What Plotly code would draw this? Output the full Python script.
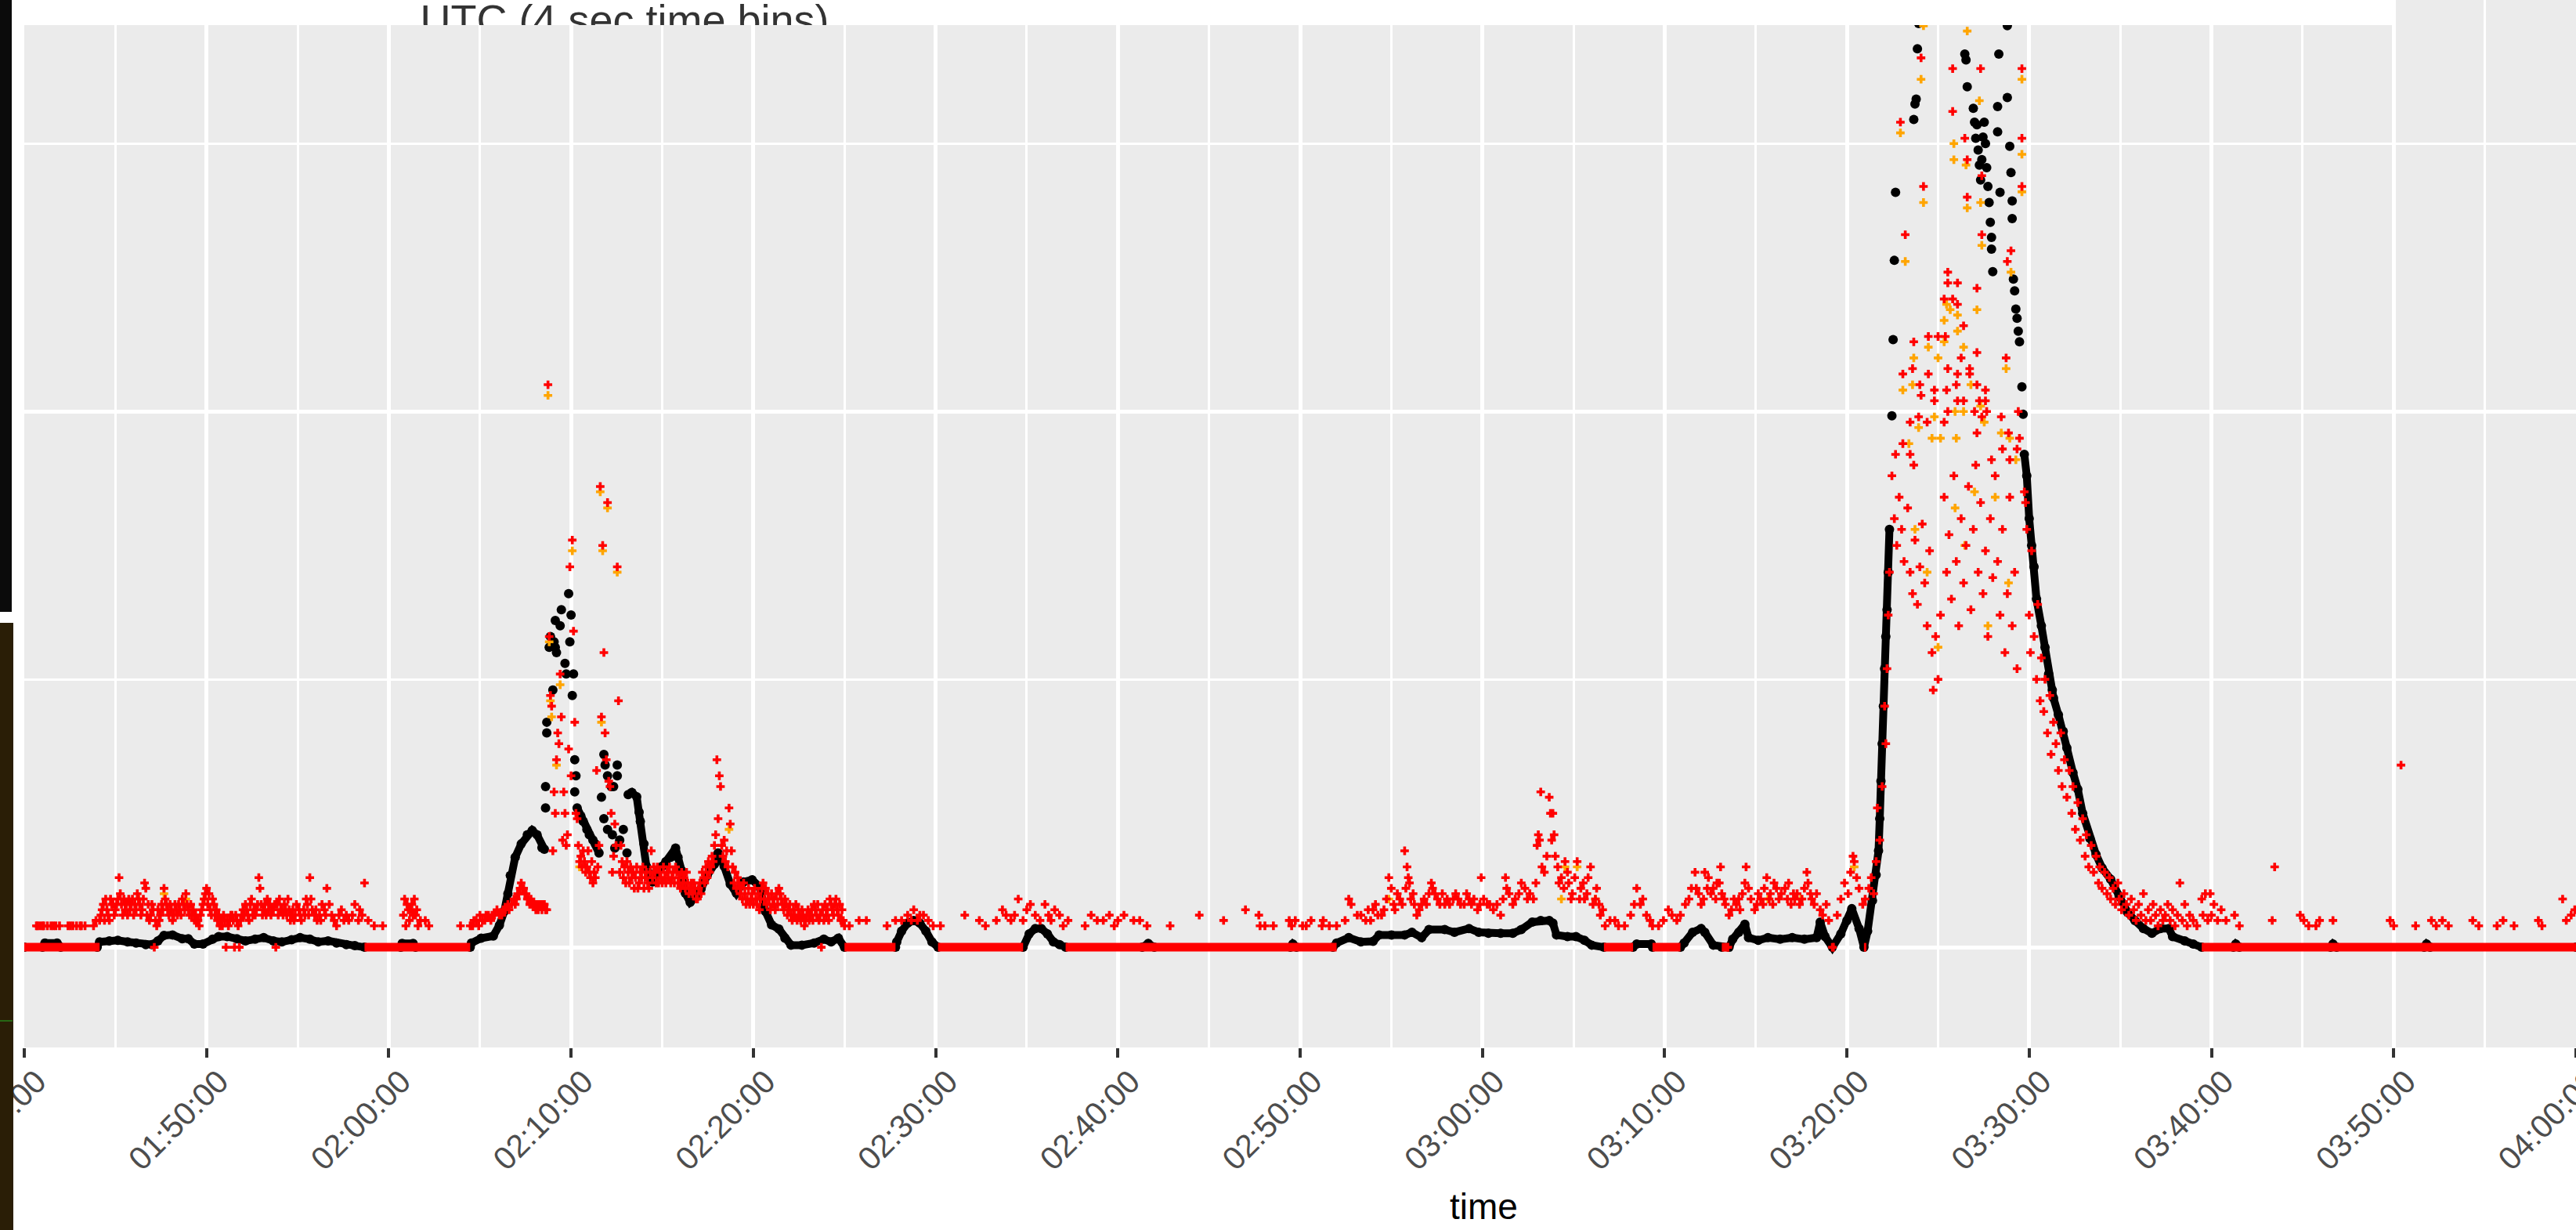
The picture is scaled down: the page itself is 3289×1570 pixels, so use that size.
import pandas as pd
import plotly.graph_objects as go

# Counts per 4-second bin; bin 0 starts at 01:40:00 UTC.
DAY = "2000-01-01"
BIN_SECONDS = 4
T0 = pd.Timestamp(f"{DAY} 01:40:00")

tick_labels = ["01:40:00", "01:50:00", "02:00:00", "02:10:00", "02:20:00",
               "02:30:00", "02:40:00", "02:50:00", "03:00:00", "03:10:00",
               "03:20:00", "03:30:00", "03:40:00", "03:50:00", "04:00:00"]

# ---- black: running level (None = break in the drawn line) ----
black_bin = [
    0, 15, 17, 27, 30, 60, 62, 70, 77, 85,
    92, 100, 105, 110, 115, 122, 130, 135, 140, 147,
    155, 160, 167, 175, 182, 190, 197, 205, 212, 220,
    227, 235, 242, 250, 257, 265, 272, 280, 310, 311,
    320, 322, 367, 368, 376, 386, 391, 395, 398, 400,
    404, 409, 414, 418, 422, 426, 428,
    None,
    455, 458, 460, 463, 465, 468, 470, 473,
    None,
    497, 500, 504, 506, 507, 510, 512, 515, 517, 520,
    525, 528, 532, 536, 538, 541, 542, 544, 548, 552,
    557, 562, 568, 571, 576, 581, 586, 592, 599, 605,
    610, 615, 621, 626, 631, 640, 650, 658, 664, 670,
    675, 717, 718, 722, 727, 732, 737, 742, 747, 752,
    822, 827, 832, 837, 842, 847, 852, 857, 920, 925,
    930, 1042, 1044, 1047, 1077, 1080, 1090, 1100, 1110, 1115,
    1125, 1136, 1142, 1150, 1156, 1169, 1177, 1189, 1197, 1205,
    1215, 1225, 1232, 1241, 1248, 1255, 1258, 1261, 1270, 1277,
    1284, 1290, 1300, 1324, 1327, 1339, 1340, 1363, 1366, 1373,
    1380, 1383, 1390, 1397, 1403, 1406, 1411, 1416, 1419, 1427,
    1435, 1445, 1455, 1465, 1475, 1478, 1482, 1488, 1495, 1500,
    1504, 1510, 1514, 1517, 1521, 1524, 1526, 1527, 1528, 1529,
    1530, 1531, 1532, 1533, 1534, 1535,
    None,
    1646, 1648, 1650, 1652, 1654, 1656, 1660, 1663, 1666, 1669,
    1670, 1674, 1678, 1681, 1686, 1690, 1694, 1700, 1705, 1710,
    1717, 1724, 1731, 1737, 1744, 1751, 1758, 1765, 1768, 1778,
    1785, 1792, 1818, 1820, 1823, 1898, 1900, 1903, 1975, 1977,
    1980, 2100,
]
black_val = [
    0, 0, 0.8, 0.8, 0, 0, 1, 1.2, 1.3, 1.0,
    0.8, 0.5, 0.5, 1.2, 2.2, 2.3, 1.6, 1.6, 0.6, 0.6,
    1.5, 2.0, 2.0, 1.6, 1.2, 1.5, 1.8, 1.2, 1.0, 1.4,
    1.8, 1.5, 1.0, 1.2, 0.8, 0.5, 0.3, 0, 0, 0.7,
    0.7, 0, 0, 0.8, 1.7, 2.1, 4.1, 6.7, 10, 13.4,
    16.8, 19.3, 21, 21.8, 21, 18.6, 18.3,
    None,
    26, 24.5, 23.5, 22, 21, 20, 19.3, 17.6,
    None,
    28.5, 28.9, 28.1, 25.2, 23.5, 19.3, 15.1, 13.4, 12.2, 13.5,
    15.1, 16, 16.8, 18.5, 16.8, 14.3, 12, 10.1, 8.4, 9.2,
    10.9, 13.4, 15.5, 17.6, 15.1, 11.8, 10.1, 12.2, 12.6, 11.3,
    6.7, 4.2, 3.4, 1.7, 0.4, 0.4, 0.8, 1.5, 1.0, 1.7,
    0, 0, 1, 3, 4.5, 5, 4.5, 3, 1, 0,
    0, 2.5, 3.5, 3.5, 2.5, 1, 0.5, 0, 0, 0.7,
    0, 0, 0.6, 0, 0, 0.8, 1.8, 1.0, 1.1, 2.3,
    2.3, 2.3, 2.8, 1.8, 3.3, 3.3, 2.8, 3.5, 2.8, 2.6,
    2.6, 2.6, 3.3, 4.7, 5.0, 5.0, 4.5, 2.3, 2.0, 2.0,
    1.3, 0.4, 0, 0, 0.6, 0.6, 0, 0, 0.8, 2.8,
    3.5, 2.8, 0.4, 0, 0, 1.5, 2.8, 4.3, 1.8, 1.3,
    1.8, 1.5, 1.8, 1.5, 1.8, 4.7, 2.0, 0, 2.5, 5,
    7.2, 3.5, 0, 3, 8.7, 13.5, 18, 24, 31, 38,
    45, 52, 58, 63, 70, 78,
    None,
    92, 88, 80, 75, 71, 65, 60, 56, 51, 48,
    46.5, 43.4, 40.3, 37.2, 32.6, 29.5, 25, 20.3, 17.3, 14.8,
    12.7, 9.6, 6.5, 5, 3.5, 2.6, 3.5, 3.5, 2, 1.2,
    0.6, 0, 0, 0.6, 0, 0, 0.6, 0, 0, 0.6,
    0, 0,
]

# ---- black: isolated bins during the bursts ----
black_burst_bin = [
    429, 429, 430, 430, 432, 433, 435, 436, 437, 437,
    438, 441, 442, 445, 446, 448, 449, 450, 451, 452,
    453, 453, 454, 475, 477, 477, 478, 480, 480, 483,
    484, 485, 486, 488, 488, 490, 493, 496, 1537, 1538,
    1539, 1540, 1555, 1556, 1557, 1558, 1559, 1597, 1598, 1599,
    1604, 1605, 1606, 1607, 1608, 1609, 1610, 1611, 1612, 1613,
    1614, 1615, 1616, 1617, 1618, 1619, 1619, 1620, 1624, 1624,
    1625, 1626, 1632, 1632, 1634, 1635, 1636, 1636, 1637, 1638,
    1639, 1640, 1641, 1642, 1644, 1645,
]
black_burst_val = [
    26, 30, 40, 42, 56, 58, 48, 57, 61, 56,
    55, 60, 63, 53, 51, 66, 57, 62, 47, 51,
    35, 29, 32, 28, 24, 36, 34, 32, 22, 30,
    21, 30, 18.5, 34, 32, 20, 22, 17.6, 99.2, 113.4,
    128.2, 140.9, 154.5, 157.4, 158.3, 167.7, 172.4, 166.7, 165.6, 160.6,
    156.6, 154, 151, 153.5, 148.8, 146, 143.2, 147, 151.2, 154,
    150, 145.5, 142, 139, 135.3, 132.5, 130.3, 126.1, 156.9, 152.2,
    166.7, 140.9, 158.6, 172, 149.5, 144.6, 139.3, 136, 124.7, 122.5,
    119.1, 117.4, 115, 113, 104.6, 99.5,
]

# ---- red: per-bin counts (non-zero stretches) ----
red_bin = [
    10, 11, 13, 15, 16, 19, 22, 24, 26, 29,
    36, 38, 40, 43, 46, 47, 50, 57, 59, 62,
    *range(63, 218),
    218, 219, 220, 221, 222, 223, 224, 226, 227, 228,
    230, 231, 232, 233, 234, 235, 236, 237, 239, 240,
    241, 243, 244, 245, 247, 248, 249, 251, 253, 255,
    257, 259, 261, 263, 265, 267, 270, 272, 275, 276,
    278, 280, 283, 288, 295,
    312, 313, 314, 315, 316, 317, 318, 319, 320, 321,
    322, 323, 324, 326, 330, 333, 359,
    367, 369, 370, 372, 374, 375, 377, 379, 380, 382,
    384, 385, 387, 389, 391, 393, 394, 396, 398, 399,
    401, 403, 404, 405, 406, 407, 408, 409, 410, 411,
    412, 413, 414, 415, 416, 417, 418, 419, 420, 421,
    422, 423, 424, 425, 426, 427, 428, 429, 430,
    *range(431, 492),
    *range(492, 676),
    679, 687, 693, 710, 717, 722, 727, 730, 732, 735,
    737, 740, 744, 748, 754, 774, 786, 791, 800, 805,
    808, 812, 815, 818, 822, 825, 828, 832, 836, 840,
    843, 845, 848, 852, 855, 859, 873, 878, 883, 888,
    893, 897, 900, 905, 913, 918, 924, 943, 967, 987,
    1005, 1016, 1017, 1021, 1028, 1041, 1043, 1046, 1052, 1055,
    1059, 1068, 1069, 1074, 1080,
    1087, 1090, 1092, 1097, 1100, 1104, 1106, 1108, 1110, 1112,
    1114, 1117, 1119, 1121, 1123, 1125, 1127, 1128, 1130, 1132,
    1134, 1136, 1137, 1138, 1139, 1140, 1141, 1143, 1144, 1146,
    1148, 1150, 1152, 1154, 1156, 1158, 1159, 1161, 1163, 1165,
    1167, 1169, 1171, 1173, 1176, 1178, 1180, 1182, 1185, 1187,
    1189, 1191, 1193, 1196, 1198, 1199, 1201, 1204, 1206, 1209,
    1212, 1215, 1217, 1219, 1220, 1222, 1225, 1227, 1230, 1232,
    1235, 1237, 1239, 1242, 1244, 1245, 1246, 1247, 1248, 1249,
    1251, 1253, 1255, 1256, 1257, 1258, 1259, 1260, 1262, 1263,
    1265, 1267, 1268, 1270, 1271, 1273, 1274, 1276, 1278, 1280,
    1281, 1283, 1284, 1286, 1287, 1289, 1291, 1293, 1294, 1296,
    1297, 1299, 1301, 1305, 1309, 1312, 1317, 1322, 1325, 1327,
    1330, 1332, 1335, 1338, 1340, 1345, 1349, 1353, 1356, 1360,
    1363, 1367, 1370, 1372, 1375, 1376, 1378, 1380, 1382, 1383,
    1385, 1386, 1388, 1390, 1392, 1393, 1395, 1396, 1397, 1399,
    1400, 1402, 1403, 1405, 1407, 1409, 1411, 1412, 1414, 1416,
    1417, 1419, 1421, 1424, 1426, 1427, 1429, 1431, 1432, 1434,
    1436, 1437, 1439, 1440, 1442, 1444, 1446, 1449, 1451, 1452,
    1454, 1456, 1457, 1459, 1461, 1463, 1465, 1467, 1468, 1470,
    1471, 1473, 1475, 1478, 1480, 1483, 1485, 1488, 1492, 1495,
    1498, 1501, 1503, 1505, 1506, 1508, 1510, 1513, 1515, 1518,
    1520, 1522, 1524, 1525,
    1527, 1529, 1531, 1532, 1533, 1534, 1535, 1537, 1539, 1541,
    1543, 1545, 1547, 1550, 1552, 1554, 1556, 1558, 1560, 1562,
    1564, 1566, 1568, 1570, 1571, 1573, 1575, 1577, 1580, 1582,
    1584, 1586, 1588, 1590, 1592, 1594, 1596, 1598, 1600, 1602,
    1604, 1606, 1608, 1610, 1612, 1614, 1616, 1618, 1620, 1622,
    1624, 1626, 1628, 1630, 1632, 1634, 1636, 1638, 1640,
    1540, 1544, 1546, 1546, 1548, 1552, 1552, 1554, 1555, 1555,
    1559, 1560, 1561, 1561, 1563, 1566, 1567, 1567, 1572, 1572,
    1575, 1580, 1580, 1581, 1582, 1583, 1583, 1583, 1583, 1587,
    1587, 1587, 1590, 1591, 1591, 1591, 1591, 1594, 1596, 1596,
    1597, 1599, 1599, 1601, 1601, 1605, 1607, 1607, 1607, 1607,
    1609, 1610, 1611, 1611, 1611, 1614, 1614, 1615, 1619, 1627,
    1628, 1631, 1632, 1633, 1634, 1635, 1640, 1641, 1642, 1644,
    1644, 1644,
    1646, 1647, 1648, 1650, 1651, 1652, 1654, 1656, 1657, 1659,
    1660, 1662, 1663, 1665, 1667, 1668, 1670, 1672, 1674, 1676,
    1677, 1679, 1681, 1683, 1685, 1686, 1688, 1690, 1692, 1694,
    1696, 1697, 1699, 1701, 1703, 1705, 1707, 1708, 1710, 1712,
    1714, 1716, 1717, 1719, 1721, 1723, 1724, 1726, 1728, 1730,
    1732, 1734, 1736, 1738, 1740, 1742, 1744, 1746, 1748, 1750,
    1752, 1754, 1756, 1758, 1760, 1762, 1764, 1766, 1768, 1770,
    1772, 1774, 1776, 1778, 1780, 1782, 1785, 1788, 1792, 1793,
    1795, 1797,
    1799, 1800, 1802, 1805, 1808, 1812, 1819, 1823, 1850, 1852,
    1873, 1876, 1880, 1886, 1889, 1900, 1947, 1950, 1956, 1968,
    1981, 1985, 1990, 1995, 2015, 2020, 2035, 2040, 2049, 2069,
    2072, 2089, 2092, 2096, 2099,
]
red_val = [
    4, 4, 4, 4, 4, 4, 4, 4, 4, 4,
    4, 4, 4, 4, 4, 4, 4, 4, 5, 5,
    # 63..217
    6, 7, 8, 5, 9, 7, 6, 5, 9, 8,
    8, 6, 7, 8, 9, 13, 10, 8, 6, 9,
    7, 8, 6, 9, 7, 8, 9, 6, 8, 7,
    10, 9, 8, 6, 7, 9, 12, 11, 6, 8,
    5, 6, 8, 7, 0, 5, 4, 7, 5, 6,
    8, 7, 11, 9, 8, 7, 6, 8, 7, 5,
    6, 8, 7, 6, 8, 7, 6, 9, 8, 7,
    10, 8, 7, 6, 8, 6, 7, 5, 6, 5,
    5, 4, 6, 7, 8, 9, 10, 11, 8, 10,
    7, 6, 9, 8, 6, 7, 5, 6, 4, 5,
    4, 6, 5, 0, 5, 4, 5, 6, 6, 5,
    0, 6, 5, 4, 0, 5, 6, 7, 6, 8,
    7, 6, 5, 8, 9, 6, 7, 6, 7, 8,
    13, 11, 8, 6, 7, 8, 6, 9, 7, 8,
    6, 7, 7, 8, 0, 8, 6, 9, 7, 7,
    6, 8, 7, 6, 9,
    # 218..295
    7, 5, 6, 7, 5, 6, 8, 7, 6, 5,
    7, 6, 9, 8, 6, 13, 9, 7, 6, 7,
    5, 6, 5, 8, 7, 6, 11, 8, 6, 5,
    4, 6, 7, 5, 6, 5, 6, 8, 5, 7,
    6, 12, 5, 4, 4,
    # 312..359
    6, 9, 4, 8, 7, 5, 7, 8, 6, 9,
    6, 7, 4, 5, 5, 4, 4,
    # 367..430
    4, 4, 5, 5, 4, 6, 5, 5, 6, 6,
    5, 6, 6, 7, 6, 6, 7, 7, 8, 7,
    8, 9, 8, 9, 10, 10, 11, 12, 11, 11,
    10, 10, 9, 9, 8, 9, 8, 8, 8, 7,
    8, 7, 8, 8, 7, 8, 8, 7, 7,
    # 431..491
    105, 58, 47, 45, 18, 29, 25, 35, 40, 38,
    51, 43, 20, 29, 25, 19, 21, 37, 71, 32,
    76, 59, 42, 25, 24, 19, 16, 17, 15, 18,
    16, 14, 15, 18, 14, 13, 16, 12, 14, 13,
    33, 15, 19, 86, 43, 75, 55, 40, 35, 83,
    31, 30, 25, 14, 17, 23, 19, 71, 46, 14,
    19,
    # 492..675
    16, 13, 15, 12, 16, 14, 12, 15, 13, 14,
    11, 13, 15, 11, 12, 14, 13, 15, 11, 13,
    14, 12, 11, 14, 18, 13, 15, 14, 12, 15,
    12, 14, 13, 12, 15, 13, 12, 14, 13, 15,
    12, 13, 14, 12, 15, 14, 12, 13, 11, 14,
    12, 13, 11, 14, 12, 10, 11, 12, 10, 12,
    11, 9, 9, 11, 12, 10, 14, 13, 12, 15,
    13, 16, 14, 15, 17, 16, 19, 21, 35, 24,
    32, 30, 19, 17, 20, 16, 18, 15, 26, 23,
    18, 15, 12, 14, 11, 13, 12, 10, 11, 9,
    12, 10, 8, 9, 11, 8, 9, 10, 8, 11,
    9, 8, 10, 7, 9, 11, 12, 9, 11, 8,
    10, 9, 7, 10, 8, 9, 7, 10, 8, 11,
    10, 9, 8, 7, 9, 8, 6, 7, 8, 6,
    5, 7, 6, 8, 5, 7, 6, 5, 7, 6,
    4, 5, 6, 7, 5, 6, 7, 5, 8, 7,
    6, 8, 5, 6, 0, 7, 5, 8, 6, 7,
    5, 9, 8, 7, 6, 8, 9, 7, 6, 8,
    5, 7, 5, 4,
    # 679..1080
    4, 5, 5, 4, 5, 5, 6, 5, 7, 5,
    6, 6, 5, 4, 4, 6, 5, 4, 5, 7,
    6, 5, 6, 9, 5, 7, 8, 6, 5, 8,
    6, 5, 7, 6, 4, 5, 4, 6, 5, 5,
    6, 4, 5, 6, 5, 5, 4, 4, 6, 5,
    7, 6, 4, 4, 4, 5, 4, 5, 4, 4,
    5, 4, 5, 4, 4,
    # 1087..1525
    5, 9, 8, 6, 6, 5, 7, 5, 7, 8,
    6, 6, 7, 9, 13, 11, 8, 7, 10, 9,
    8, 18, 11, 15, 13, 12, 9, 10, 8, 6,
    7, 8, 9, 8, 10, 12, 11, 10, 9, 8,
    10, 8, 9, 8, 9, 10, 9, 8, 8, 10,
    9, 8, 9, 7, 8, 13, 9, 8, 8, 7,
    8, 6, 9, 13, 11, 10, 8, 9, 10, 12,
    11, 9, 10, 9, 12, 19, 21, 20, 29, 15,
    14, 17, 28, 25, 20, 25, 21, 17, 15, 12,
    13, 11, 16, 14, 12, 9, 10, 13, 16, 9,
    11, 12, 9, 10, 13, 15, 8, 9, 11, 8,
    6, 7, 4, 5, 5, 4, 4, 6, 8, 11,
    8, 9, 6, 5, 4, 4, 5, 7, 6, 5,
    6, 8, 9, 11, 14, 11, 10, 8, 9, 14,
    11, 13, 10, 11, 9, 12, 12, 15, 10, 9,
    8, 0, 6, 7, 9, 8, 9, 7, 10, 12,
    15, 11, 9, 7, 8, 10, 9, 8, 11, 13,
    9, 10, 8, 12, 11, 9, 10, 11, 9, 12,
    8, 10, 9, 10, 8, 9, 11, 14, 12, 10,
    9, 8, 10, 7, 6, 8, 5, 0, 6, 9,
    12, 10, 14, 17, 16, 13, 11, 8, 9, 11,
    13, 10, 16, 26,
    # 1527..1640 rise and lower part of the burst
    20, 30, 45, 38, 52, 62, 70, 88, 80, 75,
    84, 78, 72, 82, 70, 66, 76, 64, 71, 79,
    68, 60, 74, 55, 48, 58, 50, 62, 84, 70,
    77, 65, 88, 72, 60, 80, 68, 75, 86, 63,
    78, 90, 70, 83, 66, 74, 58, 80, 69, 88,
    72, 62, 78, 55, 66, 84, 60, 70, 52,
    # upper part of the burst
    92, 154, 107, 94, 133, 92, 98, 108, 90, 113,
    99, 105, 103, 166, 142, 98, 114, 107, 104, 102,
    114, 98, 121, 114, 104, 126, 124, 108, 100, 164,
    156, 121, 105, 124, 120, 107, 102, 110, 116, 102,
    151, 147, 140, 108, 107, 100, 123, 111, 105, 96,
    102, 164, 144, 133, 99, 104, 102, 100, 91, 99,
    93, 110, 128, 96, 91, 130, 93, 100, 95, 164,
    151, 142,
    # 1646..1797 decay
    85, 83, 78, 62, 55, 74, 58, 50, 64, 46,
    54, 44, 50, 40, 47, 36, 42, 38, 33, 40,
    30, 35, 28, 33, 25, 30, 22, 27, 20, 24,
    17, 21, 15, 19, 14, 17, 12, 15, 11, 14,
    10, 13, 9, 11, 8, 12, 9, 7, 10, 8,
    6, 9, 7, 5, 8, 6, 10, 5, 7, 5,
    8, 6, 4, 7, 5, 6, 8, 5, 7, 4,
    6, 12, 5, 8, 4, 6, 5, 4, 9, 6,
    10, 5,
    # 1799..2099
    10, 6, 8, 5, 7, 5, 6, 4, 5, 15,
    6, 5, 4, 4, 5, 5, 5, 4, 34, 4,
    5, 4, 5, 4, 5, 4, 4, 5, 4, 5,
    4, 9, 5, 6, 7,
]

# stretches of bins where the red count is zero
red_zero_start = [0, 280, 675, 752, 857, 1300, 1340, 1397, 1488, 1514, 1792]
red_zero_end = [62, 367, 717, 822, 1080, 1324, 1363, 1403, 1490, 1516, 2101]

# ---- orange ----
orange_bin = [
    94, 115, 133, 148, 431, 432, 433, 434, 438, 441,
    451, 457, 474, 475, 476, 480, 488, 580, 1123, 1265,
    1268, 1278, 1293, 1435, 1462, 1506,
    1544, 1546, 1548, 1551, 1554, 1555, 1556, 1559, 1561, 1563,
    1563, 1566, 1567, 1570, 1572, 1575, 1575, 1577, 1580, 1580,
    1582, 1585, 1588, 1588, 1589, 1589, 1590, 1591, 1591, 1596,
    1596, 1597, 1598, 1599, 1599, 1602, 1605, 1607, 1609, 1610,
    1610, 1611, 1613, 1616, 1622, 1627, 1631, 1633, 1634, 1635,
    1639, 1644, 1644, 1644,
]
orange_val = [
    9, 10, 9, 9, 103, 57, 46, 43, 34, 49,
    74, 15, 85, 42, 74, 82, 70, 22, 9, 9,
    15, 15, 9, 9, 9, 15,
    152, 104, 128, 94, 105, 110, 78, 97, 162, 172,
    139, 70, 112, 95, 99, 110, 56, 95, 117, 113,
    120, 119, 150, 147, 100, 82, 95, 118, 115, 112,
    100, 75, 146, 171, 138, 105, 85, 119, 158, 139,
    101, 131, 98, 60, 84, 96, 108, 68, 95, 126,
    91, 162, 148, 141,
]

for a, b in [(black_bin, black_val), (black_burst_bin, black_burst_val),
             (red_bin, red_val), (orange_bin, orange_val),
             (red_zero_start, red_zero_end)]:
    assert len(a) == len(b), (len(a), len(b))


def bin_times(bins):
    return [None if b is None else T0 + pd.Timedelta(seconds=BIN_SECONDS * b)
            for b in bins]


# zero stretches drawn as one broken line
zero_x, zero_y = [], []
for s, e in zip(red_zero_start, red_zero_end):
    zero_x += bin_times([s, e]) + [None]
    zero_y += [0, 0, None]

# ---- page geometry (px) ----
W, H = 3289, 1570
PANEL_LEFT = 31
PANEL_BOTTOM = 1337
STRIP_LEFT, STRIP_RIGHT, STRIP_BOTTOM = 15, 3055, 32

fig = go.Figure()
fig.add_trace(go.Scatter(
    x=bin_times(black_bin), y=black_val, mode="lines+markers",
    line=dict(color="black", width=10), marker=dict(color="black", size=12),
    connectgaps=False, hoverinfo="skip"))
fig.add_trace(go.Scatter(
    x=bin_times(black_burst_bin), y=black_burst_val, mode="markers",
    marker=dict(color="black", size=12), hoverinfo="skip"))
fig.add_trace(go.Scatter(
    x=bin_times(orange_bin), y=orange_val, mode="markers",
    marker=dict(symbol="cross", size=9, color="#FFA500", line=dict(width=0)),
    hoverinfo="skip"))
fig.add_trace(go.Scatter(
    x=bin_times(red_bin), y=red_val, mode="markers",
    marker=dict(symbol="cross", size=9, color="#FF0000", line=dict(width=0)),
    hoverinfo="skip"))
fig.add_trace(go.Scatter(
    x=zero_x, y=zero_y, mode="lines", line=dict(color="#FF0000", width=11),
    connectgaps=False, hoverinfo="skip"))

# white caption strip across the top, with its caption clipped at the panel edge
fig.add_trace(go.Scatter(
    x=[0, W, W, 0, 0], y=[-20, -20, 80, 80, -20], mode="lines", fill="toself",
    fillcolor="white", line=dict(width=0), xaxis="x2", yaxis="y2",
    hoverinfo="skip"))
fig.add_trace(go.Scatter(
    x=[797.5], y=[30.5], mode="text", text=["UTC (4 sec time bins)"],
    textposition="middle center", cliponaxis=True,
    textfont=dict(family="Liberation Sans", size=54, color="#333333"),
    xaxis="x2", yaxis="y2", hoverinfo="skip"))

tick_vals = [pd.Timestamp(f"{DAY} {t}") for t in tick_labels]

fig.update_layout(
    width=W, height=H, margin=dict(l=0, r=0, t=0, b=0, pad=0),
    paper_bgcolor="white", plot_bgcolor="#EBEBEB", showlegend=False,
    xaxis=dict(
        type="date", domain=[PANEL_LEFT / W, 1],
        range=[f"{DAY} 01:40:00", f"{DAY} 04:00:00"],
        tickmode="array", tickvals=tick_vals, ticktext=tick_labels,
        tickangle=-45, ticks="outside", ticklen=12, tickwidth=4,
        tickcolor="#333333", ticklabeloverflow="allow",
        ticklabelshift=16, ticklabelstandoff=-10,
        tickfont=dict(family="Liberation Sans", size=41, color="#4D4D4D"),
        showgrid=True, gridcolor="white", gridwidth=5,
        minor=dict(tick0=f"{DAY} 01:40:00", dtick=300000, showgrid=True,
                   gridcolor="white", gridwidth=2.5, ticks=""),
        zeroline=False, showline=False, automargin=False, fixedrange=True,
    ),
    yaxis=dict(
        domain=[(H - PANEL_BOTTOM) / H, 1], range=[-18.7, 176.8],
        tickmode="linear", tick0=0, dtick=100, showticklabels=False, ticks="",
        showgrid=True, gridcolor="white", gridwidth=5,
        minor=dict(tick0=0, dtick=50, showgrid=True, gridcolor="white",
                   gridwidth=2.5, ticks=""),
        zeroline=False, showline=False, automargin=False, fixedrange=True,
    ),
    xaxis2=dict(domain=[STRIP_LEFT / W, STRIP_RIGHT / W],
                range=[STRIP_LEFT, STRIP_RIGHT], visible=False, anchor="y2",
                fixedrange=True),
    yaxis2=dict(domain=[1 - STRIP_BOTTOM / H, 1], range=[STRIP_BOTTOM, 0],
                visible=False, anchor="x2", fixedrange=True),
)

fig.add_annotation(
    text="time", xref="paper", yref="paper", x=1894 / W, y=(H - 1540) / H,
    xanchor="center", yanchor="middle", showarrow=False,
    font=dict(family="Liberation Sans", size=46, color="black"))

# neighbouring window edges at the far left of the page
fig.add_shape(type="rect", xref="paper", yref="paper", layer="above",
              x0=0, x1=15 / W, y0=1 - 781 / H, y1=1,
              fillcolor="#0b0b0b", line=dict(width=0))
fig.add_shape(type="rect", xref="paper", yref="paper", layer="above",
              x0=0, x1=17 / W, y0=0, y1=1 - 795 / H,
              fillcolor="#2a1e06", line=dict(width=0))
fig.add_shape(type="line", xref="paper", yref="paper", layer="above",
              x0=0, x1=16 / W, y0=1 - 1303 / H, y1=1 - 1303 / H,
              line=dict(color="#22b022", width=1))

fig.write_html("out.html")
